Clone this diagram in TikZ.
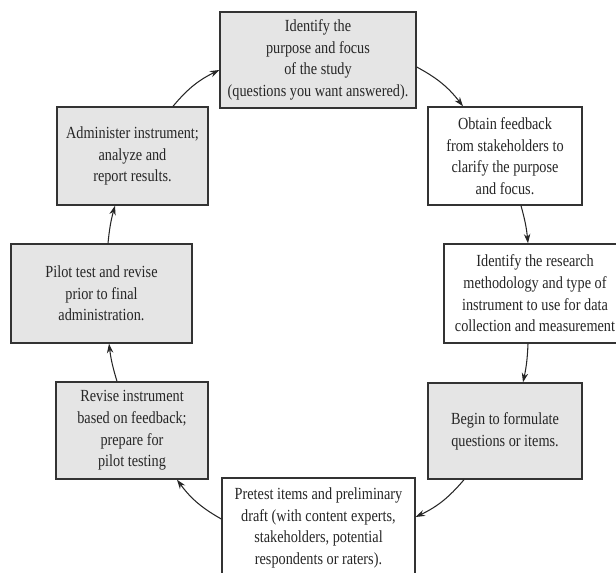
\documentclass[tikz,border=0pt]{standalone}
\usepackage{fontspec}
\setmainfont{Liberation Serif}[FakeStretch=0.84]
\usepackage{tikz}
\usetikzlibrary{arrows.meta, calc}

\begin{document}
\begin{tikzpicture}[x=0.03cm, y=-0.03cm, >={Stealth[length=8pt, width=5.5pt]},
    every node/.style={align=center, text=black!85, font=\fontsize{14.5}{18.5}\selectfont},
    stage/.style={draw=black!80, line width=1.2pt, fill=white, inner sep=2pt},
    shaded/.style={stage, fill=black!10},
    flow/.style={->, line width=0.9pt, black!85}]
    \useasboundingbox (0,0) rectangle (616,573);
    \clip (0,0) rectangle (616,573);

    \node[shaded, minimum width=5.88cm, minimum height=2.88cm] (purpose) at ({318},{60}) {Identify the\\purpose and focus\\of the study\\(questions you want answered).};
    \node[stage, minimum width=4.62cm, minimum height=2.94cm] (feedback) at ({505},{156}) {Obtain feedback\\from stakeholders to\\clarify the purpose\\and focus.};
    \node[stage, minimum width=5.46cm, minimum height=2.97cm] (method) at ({535},{293.5}) {Identify the research\\methodology and type of\\instrument to use for data\\collection and measurement};
    \node[shaded, minimum width=4.62cm, minimum height=2.88cm] (items) at ({505},{431}) {Begin to formulate\\questions or items.};
    \node[stage, minimum width=5.79cm, minimum height=3.0cm] (pretest) at ({318.5},{528}) {Pretest items and preliminary\\draft (with content experts,\\stakeholders, potential\\respondents or raters).};
    \node[shaded, minimum width=4.56cm, minimum height=2.91cm] (revise) at ({132},{430.5}) {Revise instrument\\based on feedback;\\prepare for\\pilot testing};
    \node[shaded, minimum width=5.43cm, minimum height=2.97cm] (pilot) at ({101.5},{293.5}) {Pilot test and revise\\prior to final\\administration.};
    \node[shaded, minimum width=4.53cm, minimum height=2.94cm] (admin) at ({132.5},{156}) {Administer instrument;\\analyze and\\report results.};

    \draw[flow] ($(admin.north)+(40.5,0)$) to[bend left=12] ($(purpose.west)+(0,10)$);
    \draw[flow] ($(purpose.east)+(0,7)$) to[bend left=12] ($(feedback.north)+(-42,0)$);
    \draw[flow] ($(feedback.south)+(16,0)$) to[bend left=5] ($(method.north)+(-7,0)$);
    \draw[flow] ($(method.south)+(-7,0)$) to[bend left=5] ($(items.north)+(18,0)$);
    \draw[flow] ($(items.south)+(-41,0)$) to[bend left=12] ($(pretest.east)+(0,-11)$);
    \draw[flow] ($(pretest.west)+(0,-9)$) to[bend left=12] ($(revise.south)+(45,0)$);
    \draw[flow] ($(revise.north)+(-15,0)$) to[bend left=5] ($(pilot.south)+(7.5,0)$);
    \draw[flow] ($(pilot.north)+(6.5,0)$) to[bend left=5] ($(admin.south)+(-17.5,0)$);
\end{tikzpicture}
\end{document}
